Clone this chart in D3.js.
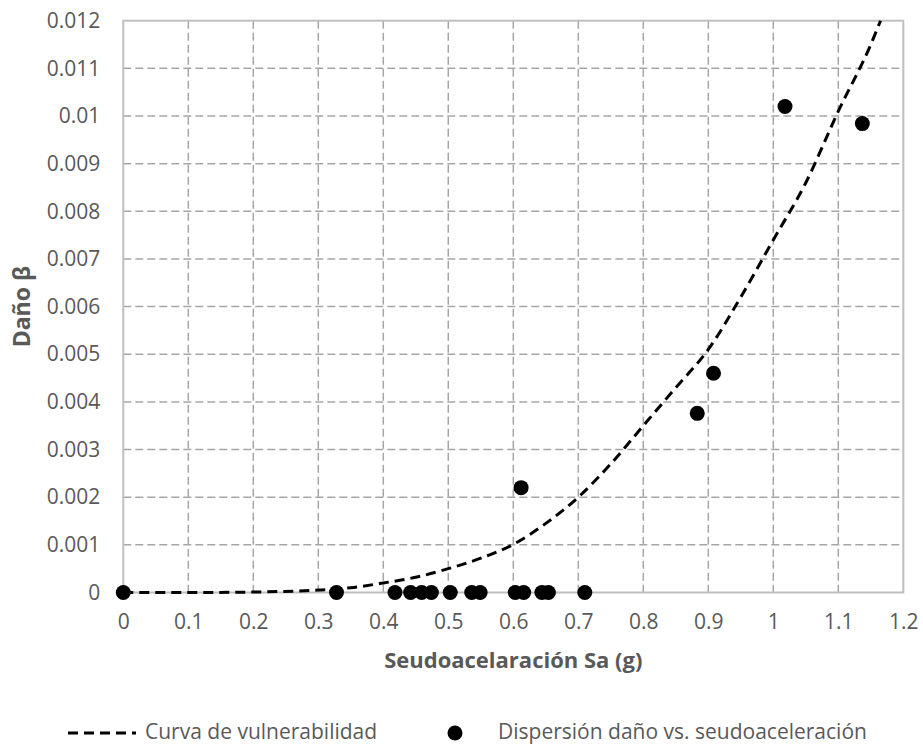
<!DOCTYPE html>
<html>
<head>
<meta charset="utf-8">
<script src="https://cdn.jsdelivr.net/npm/d3@7"></script>
<style>
  html, body { margin: 0; padding: 0; background: #fff; }
  svg { display: block; font-family: "Open Sans", sans-serif; }
</style>
</head>
<body>
<div id="chart"></div>
<script>
// Scatter of observed damage vs. spectral pseudo-acceleration
const scatterSa = [0, 0.328, 0.418, 0.442, 0.459, 0.474, 0.503, 0.536, 0.549,
                   0.603, 0.616, 0.644, 0.654, 0.710, 0.612, 0.883, 0.908, 1.018, 1.137];
const scatterDamage = [0, 0, 0, 0, 0, 0, 0, 0, 0,
                       0, 0, 0, 0, 0, 0.0022, 0.00376, 0.0046, 0.0102, 0.00984];

// Vulnerability curve samples
const curveSa = [0, 0.1, 0.2, 0.3, 0.35, 0.4, 0.45, 0.5, 0.55, 0.6, 0.65, 0.7,
                 0.75, 0.8, 0.85, 0.9, 0.95, 1.0, 1.05, 1.1, 1.15, 1.165];
const curveDamage = [0, 0, 0.00001, 0.00005, 0.0001, 0.0002, 0.00032, 0.0005, 0.00072,
                     0.00101, 0.00145, 0.0020, 0.0027, 0.0035, 0.0043, 0.0051, 0.0062,
                     0.0074, 0.0086, 0.0101, 0.0115, 0.012];

// Axis ticks
const xTicks = [0, 0.1, 0.2, 0.3, 0.4, 0.5, 0.6, 0.7, 0.8, 0.9, 1.0, 1.1, 1.2];
const xTickLabels = ["0", "0.1", "0.2", "0.3", "0.4", "0.5", "0.6", "0.7", "0.8", "0.9", "1", "1.1", "1.2"];
const yTicks = [0, 0.001, 0.002, 0.003, 0.004, 0.005, 0.006, 0.007, 0.008, 0.009, 0.01, 0.011, 0.012];
const yTickLabels = ["0", "0.001", "0.002", "0.003", "0.004", "0.005", "0.006", "0.007",
                     "0.008", "0.009", "0.01", "0.011", "0.012"];

const xTitle = "Seudoacelaración Sa (g)";
const yTitle = "Daño β";
const legendCurve = "Curva de vulnerabilidad";
const legendScatter = "Dispersión daño vs. seudoaceleración";

const W = 923, H = 749;
const plot = { left: 123.3, right: 903.3, top: 20.7, bottom: 592.5 };
const textColor = "#595959";

const svg = d3.select("#chart").append("svg")
  .attr("width", W).attr("height", H);
svg.append("rect").attr("width", W).attr("height", H).attr("fill", "#fff");

const x = d3.scaleLinear().domain([0, 1.2]).range([plot.left, plot.right]);
const y = d3.scaleLinear().domain([0, 0.012]).range([plot.bottom, plot.top]);

// Dashed gridlines
const grid = svg.append("g");
grid.selectAll("line.v").data(xTicks.slice(1, -1)).join("line")
  .attr("x1", d => x(d)).attr("x2", d => x(d))
  .attr("y1", plot.top).attr("y2", plot.bottom)
  .attr("stroke", "#a6a6a6").attr("stroke-width", 1.5).attr("stroke-dasharray", "8,4");
grid.selectAll("line.h").data(yTicks.slice(1, -1)).join("line")
  .attr("x1", plot.left).attr("x2", plot.right)
  .attr("y1", d => y(d)).attr("y2", d => y(d))
  .attr("stroke", "#a6a6a6").attr("stroke-width", 1.5).attr("stroke-dasharray", "8,4");

// Plot frame
svg.append("rect")
  .attr("x", plot.left).attr("y", plot.top)
  .attr("width", plot.right - plot.left).attr("height", plot.bottom - plot.top)
  .attr("fill", "none").attr("stroke", "#bfbfbf").attr("stroke-width", 2);

// Axes (labels only, via d3 axis generators)
const xAxis = d3.axisBottom(x).tickValues(xTicks)
  .tickFormat((d, i) => xTickLabels[i]).tickSize(0).tickPadding(22);
const gx = svg.append("g").attr("transform", `translate(0,${plot.bottom})`).call(xAxis);
gx.select(".domain").remove();
gx.selectAll("text").attr("fill", textColor).style("font-size", "21px")
  .style("font-family", "'Open Sans', sans-serif");

const yAxis = d3.axisLeft(y).tickValues(yTicks)
  .tickFormat((d, i) => yTickLabels[i]).tickSize(0).tickPadding(23);
const gy = svg.append("g").attr("transform", `translate(${plot.left},0)`).call(yAxis);
gy.select(".domain").remove();
gy.selectAll("text").attr("fill", textColor).style("font-size", "21px")
  .style("font-family", "'Open Sans', sans-serif");

// Vulnerability curve
const curvePts = curveSa.map((s, i) => [s, curveDamage[i]]);
svg.append("path")
  .datum(curvePts)
  .attr("d", d3.line().x(d => x(d[0])).y(d => y(d[1])).curve(d3.curveMonotoneX))
  .attr("fill", "none").attr("stroke", "#000").attr("stroke-width", 3)
  .attr("stroke-dasharray", "10,6");

// Scatter points
const pts = scatterSa.map((s, i) => [s, scatterDamage[i]]);
svg.append("g").selectAll("circle").data(pts).join("circle")
  .attr("cx", d => x(d[0])).attr("cy", d => y(d[1]))
  .attr("r", 7.5).attr("fill", "#000");

// Axis titles
svg.append("text")
  .attr("x", (plot.left + plot.right) / 2).attr("y", 662)
  .attr("text-anchor", "middle").attr("dominant-baseline", "middle")
  .attr("fill", textColor).style("font-size", "22px").style("font-weight", "bold")
  .text(xTitle);

svg.append("text")
  .attr("transform", `translate(24,${(plot.top + plot.bottom) / 2}) rotate(-90)`)
  .attr("text-anchor", "middle").attr("dominant-baseline", "middle")
  .attr("fill", textColor).style("font-size", "23px").style("font-weight", "bold")
  .text(yTitle);

// Legend
const ly = 733;
const leg = svg.append("g");
leg.append("line")
  .attr("x1", 68).attr("x2", 136).attr("y1", ly).attr("y2", ly)
  .attr("stroke", "#000").attr("stroke-width", 3).attr("stroke-dasharray", "10,6");
leg.append("text").attr("x", 145).attr("y", ly).attr("dominant-baseline", "middle")
  .attr("fill", textColor).style("font-size", "21px").text(legendCurve);
leg.append("circle").attr("cx", 455).attr("cy", ly).attr("r", 7.5).attr("fill", "#000");
leg.append("text").attr("x", 498).attr("y", ly).attr("dominant-baseline", "middle")
  .attr("fill", textColor).style("font-size", "21px").text(legendScatter);
</script>
</body>
</html>
